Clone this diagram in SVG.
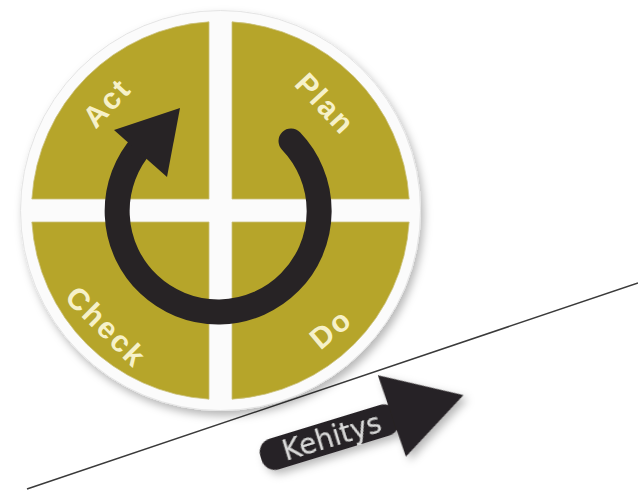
<svg xmlns="http://www.w3.org/2000/svg" width="638" height="492" viewBox="0 0 638 492">
  <style>
    .quad { fill: #b6a52a; stroke: #cbc27c; stroke-width: 0.8; }
    .qlabel { font-family: "Liberation Sans", "DejaVu Sans", Arial, sans-serif; font-weight: bold; font-size: 30px; letter-spacing: 2px; fill: #f6f1c9; text-anchor: middle; }
    .dark { fill: #272325; }
    .ktext { font-family: "DejaVu Sans", Verdana, sans-serif; font-size: 28px; fill: #dadada; text-anchor: middle; }
  </style>
  <defs>
    <filter id="shadow" x="-20%" y="-20%" width="140%" height="140%">
      <feGaussianBlur in="SourceAlpha" stdDeviation="4"/>
      <feOffset dx="3" dy="5" result="b"/>
      <feFlood flood-color="#000" flood-opacity="0.28"/>
      <feComposite in2="b" operator="in"/>
      <feMerge><feMergeNode/><feMergeNode in="SourceGraphic"/></feMerge>
    </filter>
  </defs>
  <rect width="638" height="492" fill="#ffffff"/>

  <g id="baseline">
    <line x1="27" y1="489" x2="638" y2="283" stroke="#3a3a3a" stroke-width="1.5"/>
  </g>

  <g id="wheel">
    <circle cx="220.5" cy="210.5" r="200" fill="#fbfbfb" stroke="#e4e4e4" stroke-width="1" filter="url(#shadow)"/>
  </g>

  <g id="plan">
    <path class="quad" d="M232,199 V21.85 A189,189 0 0 1 409.15,199 Z"/>
    <text class="qlabel" transform="translate(325,104) rotate(47)" y="10">Plan</text>
  </g>
  <g id="do">
    <path class="quad" d="M232,222 H409.15 A189,189 0 0 1 232,399.15 Z"/>
    <text class="qlabel" transform="translate(331,329) rotate(-40)" y="10">Do</text>
  </g>
  <g id="check">
    <path class="quad" d="M209,222 V399.15 A189,189 0 0 1 31.85,222 Z"/>
    <text class="qlabel" transform="translate(106,327) rotate(45)" y="10">Check</text>
  </g>
  <g id="act">
    <path class="quad" d="M209,199 H31.85 A189,189 0 0 1 209,21.85 Z"/>
    <text class="qlabel" transform="translate(107,103) rotate(-47)" y="10">Act</text>
  </g>

  <g id="connectors">
    <path d="M291,141 A101,101 0 1 1 143,143.5" fill="none" stroke="#272325" stroke-width="25" stroke-linecap="round"/>
    <polygon class="dark" points="114,130 180,108 167,177"/>
  </g>

  <g id="kehitys" transform="translate(392,418) rotate(-17)" filter="url(#shadow)">
    <rect class="dark" x="-137" y="-16" width="143" height="32" rx="14"/>
    <polygon class="dark" points="-1,-45 75,-1 2,41"/>
    <text class="ktext" x="-63" y="10">Kehitys</text>
  </g>
</svg>
